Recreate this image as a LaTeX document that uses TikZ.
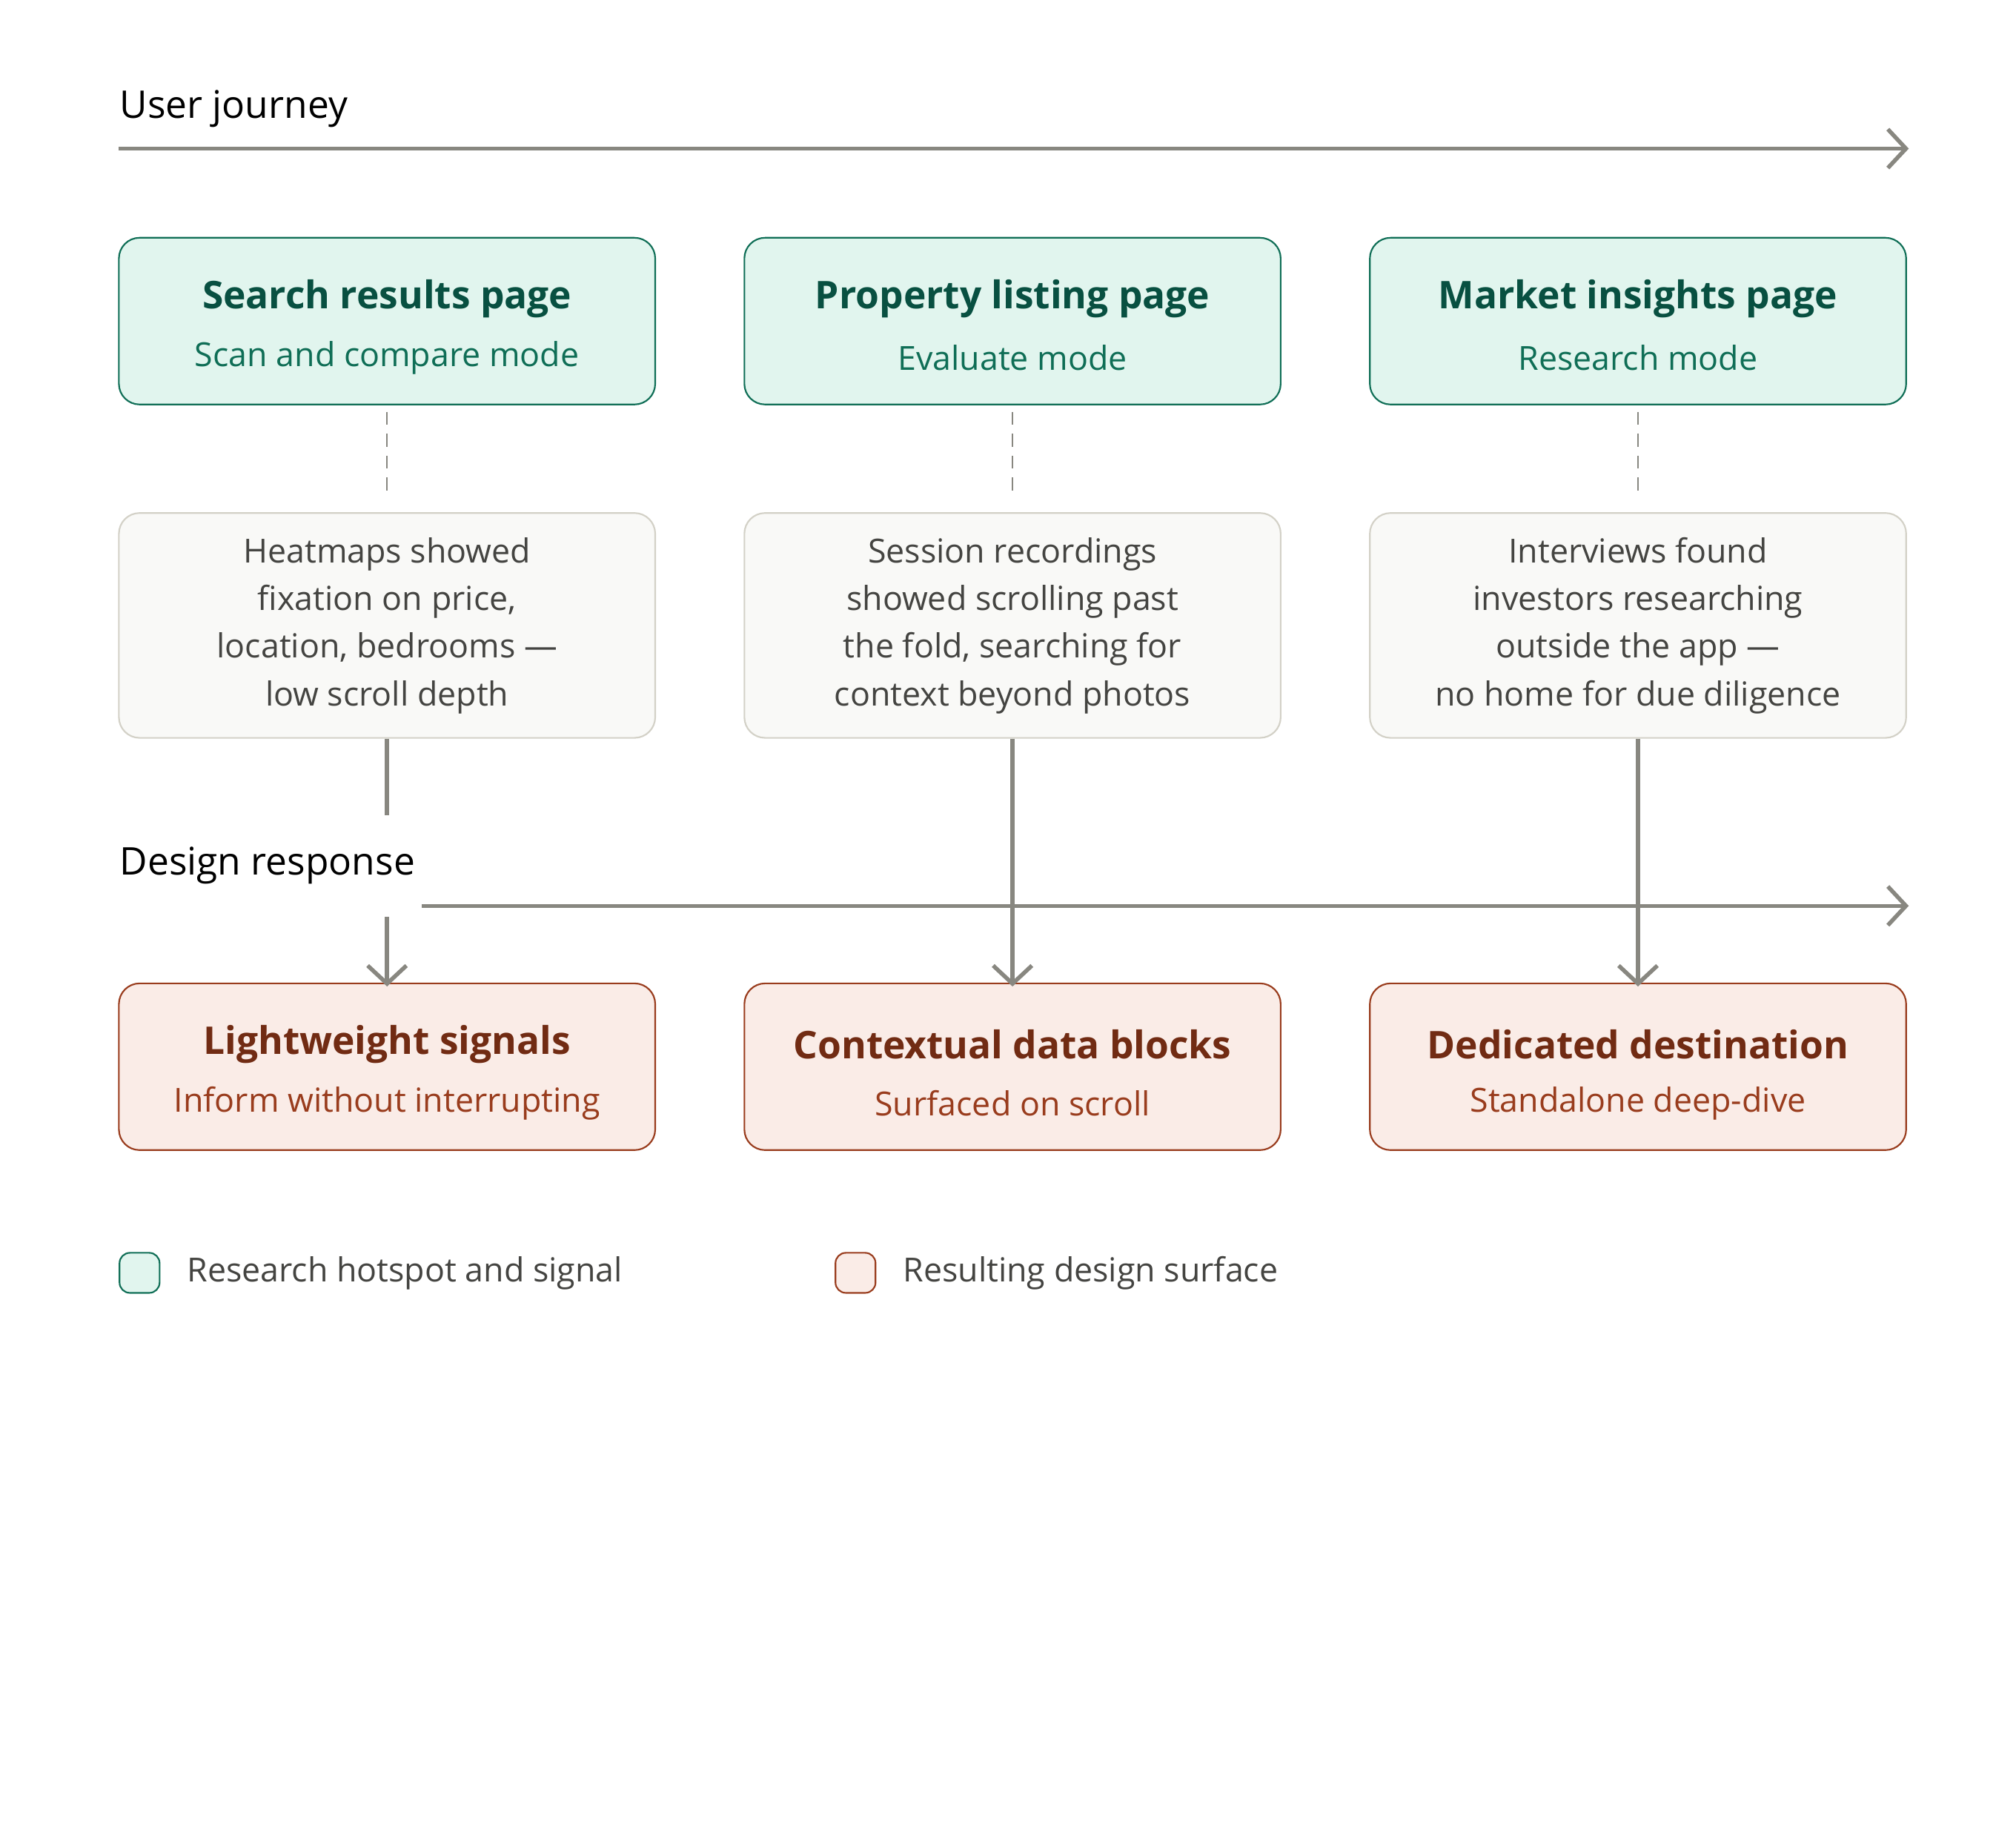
\documentclass[tikz,border=0pt]{standalone}
\usepackage{fontspec}
\setmainfont{Open Sans}
\usetikzlibrary{arrows.meta, positioning}
\definecolor{GreenFill}{HTML}{E1F5EE}
\definecolor{GreenLine}{HTML}{0F6E56}
\definecolor{GreenDark}{HTML}{085041}
\definecolor{RedFill}{HTML}{FAECE7}
\definecolor{RedLine}{HTML}{993C1D}
\definecolor{RedDark}{HTML}{712B13}
\definecolor{NoteFill}{HTML}{F9F9F7}
\definecolor{NoteLine}{HTML}{D3D1C7}
\definecolor{NoteText}{HTML}{444441}
\definecolor{Axis}{HTML}{888780}
\tikzset{
  box/.style={rectangle, rounded corners=1.6mm, minimum width=41.5mm, line width=0.35pt},
  stage/.style={box, fill=GreenFill, draw=GreenLine, minimum height=12.9mm},
  result/.style={box, fill=RedFill, draw=RedLine, minimum height=12.9mm},
  note/.style={box, fill=NoteFill, draw=NoteLine, minimum height=17.4mm, align=center,
    text=NoteText, font=\fontsize{7.3}{10.5}\selectfont},
  ttl/.style={font=\fontsize{8.4}{10}\selectfont\bfseries, inner sep=0},
  sub/.style={font=\fontsize{7.3}{9}\selectfont, inner sep=0},
  head/.style={font=\fontsize{8.4}{10}\selectfont, anchor=west, inner sep=0},
  axis/.style={draw=Axis, line width=0.9pt, -{Straight Barb[length=1.4mm, width=3mm]}},
  flow/.style={draw=Axis, line width=0.9pt, -{Straight Barb[length=1.4mm, width=3mm]}},
  link/.style={draw=Axis, line width=0.4pt, dash pattern=on 1mm off 0.7mm},
  key/.style={rectangle, rounded corners=0.8mm, minimum size=3.1mm, line width=0.35pt},
}
\begin{document}
\begin{tikzpicture}[x=0.1mm, y=-0.1mm]
  \useasboundingbox (0,0) rectangle (1560,1422);

  % Axes
  \node[head] (uj) at (92,84) {User journey};
  \coordinate (ua) at (92,115);
  \coordinate (ub) at (1477,115);
  \draw[axis] (ua) -- (ub);
  \coordinate (da) at (92,701);
  \coordinate (db) at (1477,701);
  \draw[axis] (da) -- (db);

  % Columns
  \foreach \x/\n/\t/\s/\a/\rt/\rs in {
      299.5/s/Search results page/Scan and compare mode/{Heatmaps showed\\fixation on price,\\location, bedrooms —\\low scroll depth}/Lightweight signals/Inform without interrupting,
      783.5/p/Property listing page/Evaluate mode/{Session recordings\\showed scrolling past\\the fold, searching for\\context beyond photos}/Contextual data blocks/Surfaced on scroll,
      1267.5/m/Market insights page/Research mode/{Interviews found\\investors researching\\outside the app —\\no home for due diligence}/Dedicated destination/Standalone deep-dive} {
    \node[stage] (\n-stage) at (\x,248.5) {};
    \node[ttl, text=GreenDark] at (\x,231) {\t};
    \node[sub, text=GreenLine] at (\x,277) {\s};
    \node[note] (\n-note) at (\x,484) {\a};
    \node[result] (\n-res) at (\x,825.5) {};
    \node[ttl, text=RedDark] at (\x,808) {\rt};
    \node[sub, text=RedLine] at (\x,854) {\rs};
    \draw[link] ([yshift=-0.5mm]\n-stage.south) -- ([yshift=1mm]\n-note.north);
    \draw[flow] (\n-note.south) -- ([yshift=-0.3mm]\n-res.north);
  }

  \node[head, fill=white, inner ysep=2.5mm, inner xsep=0.5mm, xshift=-0.5mm] (dr) at (92,670) {Design response};

  % Legend
  \node[key, fill=GreenFill, draw=GreenLine] (k1) at (108,985) {};
  \node[sub, text=NoteText, anchor=west, right=2mm of k1] {Research hotspot and signal};
  \node[key, fill=RedFill, draw=RedLine] (k2) at (662,985) {};
  \node[sub, text=NoteText, anchor=west, right=2mm of k2] {Resulting design surface};
\end{tikzpicture}
\end{document}
